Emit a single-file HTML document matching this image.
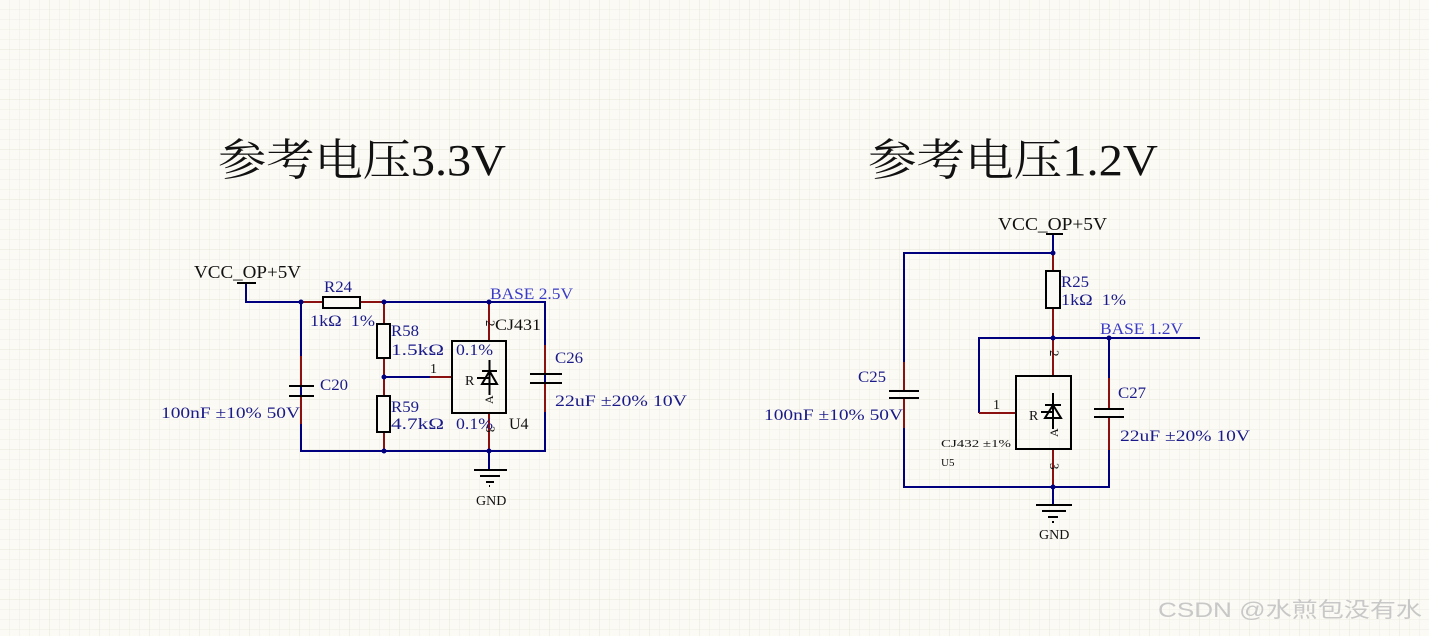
<!DOCTYPE html>
<html><head><meta charset="utf-8"><style>
html,body{margin:0;padding:0;background:#fbfaf4;}
svg{display:block}
text{font-family:"Liberation Serif","Noto Serif CJK SC",serif;}
</style></head><body>
<svg width="1429" height="636" viewBox="0 0 1429 636" xmlns="http://www.w3.org/2000/svg">
<defs>
<pattern id="g" width="10" height="10" patternUnits="userSpaceOnUse">
<path d="M10 0V10M0 10H10" stroke="#efeee4" stroke-width="1" fill="none"/>
</pattern>
<pattern id="G" width="50" height="50" patternUnits="userSpaceOnUse">
<path d="M50 0V50M0 50H50" stroke="#e6e5da" stroke-width="1" fill="none"/>
</pattern>
</defs>
<rect width="1429" height="636" fill="#fbfaf4"/>
<rect width="1429" height="636" fill="url(#g)"/>
<rect width="1429" height="636" fill="url(#G)"/>

<text x="218" y="175" font-size="44" textLength="288" lengthAdjust="spacingAndGlyphs" fill="#111">参考电压3.3V</text>
<text x="868" y="175" font-size="44" textLength="290" lengthAdjust="spacingAndGlyphs" fill="#111">参考电压1.2V</text>

<!-- LEFT CIRCUIT -->
<g fill="none" stroke-width="2">
<g stroke="#00007f">
<path d="M246 283V302H301"/>
<path d="M384 302H545V451H301V302"/>
<path d="M301 302V356M301 424V451"/>
<path d="M384 377H430"/>
<path d="M489 470V451"/>
</g>
<g stroke="#8b1010">
<path d="M301 302H323M360 302H384"/>
<path d="M301 356V386M301 396V424"/>
<path d="M384 302V324M384 358V396M384 432V451"/>
<path d="M430 377H452"/>
<path d="M489 302V341M489 413V451"/>
<path d="M545 345V374M545 383V412"/>
</g>
<g stroke="#000">
<path d="M237 283H256"/>
<rect x="323" y="297" width="37" height="11" fill="#fbfaf4"/>
<rect x="377" y="324" width="13" height="34" fill="#fbfaf4"/>
<rect x="377" y="396" width="13" height="36" fill="#fbfaf4"/>
<rect x="452" y="341" width="54" height="72"/>
<path d="M289 386H314M289 396H314"/>
<path d="M530 374H562M530 383H562"/>
<path d="M474 470H507M480 476H500M486 482H494M489 486H490"/>
<path d="M482 384H497L489.5 371Z M482 371H497 M489.5 360V395 M477 378H489"/>
</g>
</g>
<g fill="#00007f">
<circle cx="301" cy="302" r="2.5"/><circle cx="384" cy="302" r="2.5"/><circle cx="489" cy="302" r="2.5"/>
<circle cx="384" cy="377" r="2.5"/><circle cx="384" cy="451" r="2.5"/><circle cx="489" cy="451" r="2.5"/>
</g>
<g font-size="16" fill="#1a1a8a" lengthAdjust="spacingAndGlyphs">
<text x="324" y="292" textLength="28" lengthAdjust="spacingAndGlyphs">R24</text>
<text x="310" y="326" textLength="65" lengthAdjust="spacingAndGlyphs">1kΩ&#160;&#160;1%</text>
<text x="391" y="336" textLength="28" lengthAdjust="spacingAndGlyphs">R58</text>
<text x="391" y="355" textLength="53" lengthAdjust="spacingAndGlyphs">1.5kΩ</text>
<text x="456" y="355" textLength="37" lengthAdjust="spacingAndGlyphs">0.1%</text>
<text x="391" y="412" textLength="28" lengthAdjust="spacingAndGlyphs">R59</text>
<text x="391" y="429" textLength="53" lengthAdjust="spacingAndGlyphs">4.7kΩ</text>
<text x="456" y="429" textLength="37" lengthAdjust="spacingAndGlyphs">0.1%</text>
<text x="320" y="390" textLength="28" lengthAdjust="spacingAndGlyphs">C20</text>
<text x="161" y="418" textLength="139" lengthAdjust="spacingAndGlyphs">100nF ±10% 50V</text>
<text x="555" y="363" textLength="28" lengthAdjust="spacingAndGlyphs">C26</text>
<text x="555" y="406" textLength="132" lengthAdjust="spacingAndGlyphs">22uF ±20% 10V</text>
<text x="490" y="299" fill="#3a3ac8" textLength="83" lengthAdjust="spacingAndGlyphs">BASE 2.5V</text>
</g>
<g font-size="16" fill="#111">
<text x="194" y="278" font-size="18" textLength="107" lengthAdjust="spacingAndGlyphs">VCC_OP+5V</text>
<text x="495" y="330" textLength="46" lengthAdjust="spacingAndGlyphs">CJ431</text>
<text x="509" y="429">U4</text>
<text x="430" y="373" font-size="14">1</text>
<text x="465" y="385" font-size="14">R</text>
<text x="476" y="505" font-size="14">GND</text>
<text x="0" y="0" transform="translate(486,320) rotate(90)" font-size="13">2</text>
<text x="0" y="0" transform="translate(486,426) rotate(90)" font-size="13">3</text>
<text x="0" y="0" transform="translate(493,404) rotate(-90)" font-size="12">A</text>
</g>

<!-- RIGHT CIRCUIT -->
<g fill="none" stroke-width="2">
<g stroke="#00007f">
<path d="M1053 234V253H904V362M904 428V487H1109V432"/>
<path d="M1053 253V271"/>
<path d="M979 413V338H1200M1109 338V378"/>
<path d="M1053 505V487"/>
</g>
<g stroke="#8b1010">
<path d="M904 362V391M904 398V428"/>
<path d="M1053 253V271M1053 308V338"/>
<path d="M979 413H1016"/>
<path d="M1053 338V376M1053 449V487"/>
<path d="M1109 378V409M1109 417V450"/>
</g>
<g stroke="#000">
<path d="M1046 234H1063"/>
<rect x="1046" y="271" width="14" height="37" fill="#fbfaf4"/>
<rect x="1016" y="376" width="55" height="73"/>
<path d="M889 391H919M889 398H919"/>
<path d="M1094 409H1124M1094 417H1124"/>
<path d="M1036 505H1072M1042 511H1066M1048 517H1058M1052 522H1054"/>
<path d="M1045 418H1061L1053 405Z M1045 405H1061 M1053 393V429 M1041 412H1053"/>
</g>
</g>
<g fill="#00007f">
<circle cx="1053" cy="253" r="2.5"/><circle cx="1053" cy="338" r="2.5"/><circle cx="1109" cy="338" r="2.5"/><circle cx="1053" cy="487" r="2.5"/>
</g>
<g font-size="16" fill="#1a1a8a">
<text x="1061" y="287" textLength="28" lengthAdjust="spacingAndGlyphs">R25</text>
<text x="1061" y="305" textLength="65" lengthAdjust="spacingAndGlyphs">1kΩ&#160;&#160;1%</text>
<text x="858" y="382" textLength="28" lengthAdjust="spacingAndGlyphs">C25</text>
<text x="764" y="420" textLength="139" lengthAdjust="spacingAndGlyphs">100nF ±10% 50V</text>
<text x="1118" y="398" textLength="28" lengthAdjust="spacingAndGlyphs">C27</text>
<text x="1120" y="441" textLength="130" lengthAdjust="spacingAndGlyphs">22uF ±20% 10V</text>
<text x="1100" y="334" fill="#3a3ac8" textLength="83" lengthAdjust="spacingAndGlyphs">BASE 1.2V</text>
</g>
<g font-size="14" fill="#111">
<text x="998" y="230" font-size="18" textLength="109" lengthAdjust="spacingAndGlyphs">VCC_OP+5V</text>
<text x="993" y="409">1</text>
<text x="1029" y="420">R</text>
<text x="941" y="447" font-size="11" textLength="70" lengthAdjust="spacingAndGlyphs">CJ432 ±1%</text>
<text x="941" y="466" font-size="11">U5</text>
<text x="1039" y="539">GND</text>
<text x="0" y="0" transform="translate(1050,350) rotate(90)" font-size="13">2</text>
<text x="0" y="0" transform="translate(1050,463) rotate(90)" font-size="13">3</text>
<text x="0" y="0" transform="translate(1058,437) rotate(-90)" font-size="12">A</text>
</g>

<text x="1158" y="617" font-size="21" fill="#c8c8c8" textLength="264" lengthAdjust="spacingAndGlyphs" style="font-family:'Liberation Sans','Noto Sans CJK SC',sans-serif">CSDN @水煎包没有水</text>
</svg>
</body></html>
